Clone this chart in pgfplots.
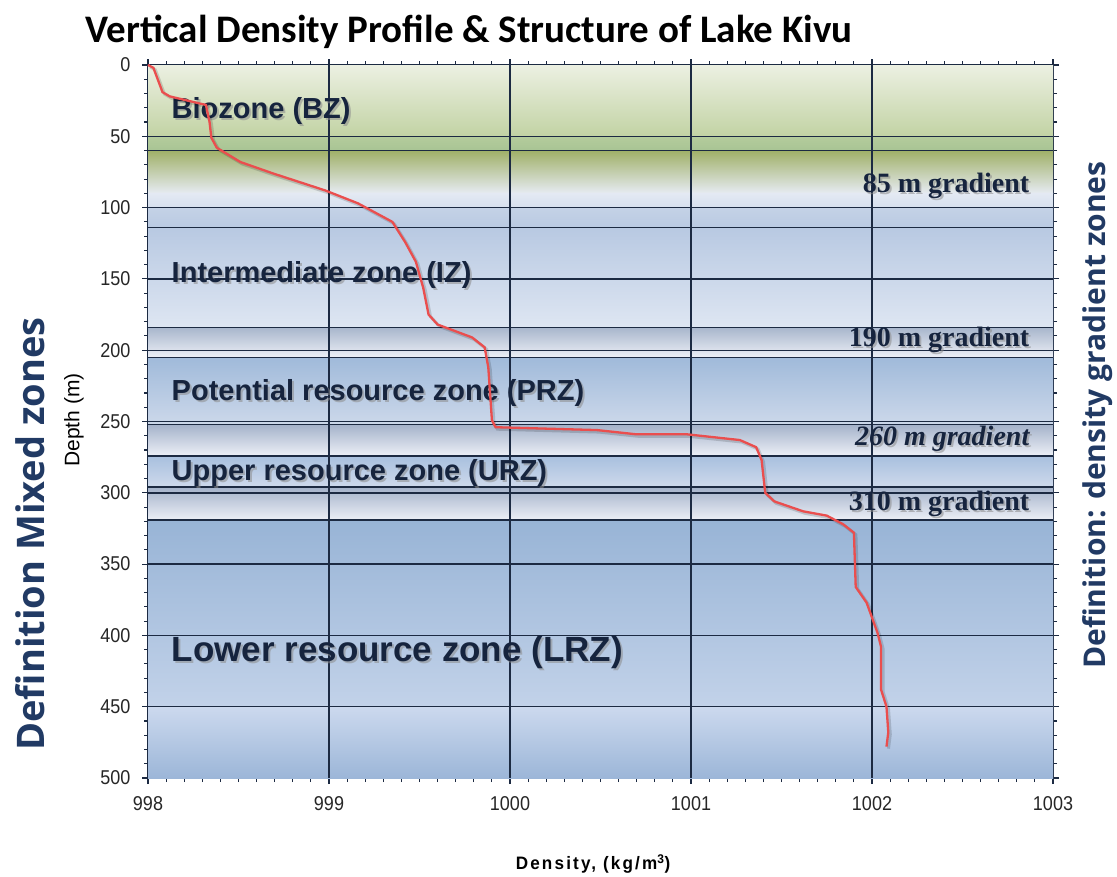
\documentclass[border=0pt]{standalone}
\usepackage{pgfplots}
\pgfplotsset{compat=1.18}
\usepackage{fontspec}
\setmainfont{Liberation Sans}
\newfontfamily\narrowsans[FakeStretch=0.9]{Liberation Sans}
\newfontfamily\spacedsans[LetterSpace=12,FakeStretch=0.95]{Liberation Sans}
\newfontfamily\titlefont{Carlito}
\newfontfamily\defn{Open Sans}
\newfontfamily\gradfont{Liberation Serif}
\definecolor{navy}{RGB}{22,36,62}
\definecolor{gridc}{RGB}{28,42,66}
\definecolor{defc}{RGB}{33,58,100}
\definecolor{curve}{RGB}{234,78,78}

\newcommand{\shtext}[4]{%
  \node[anchor=#2, font={#3}, text=black!45, opacity=0.55, xshift=2pt, yshift=-2pt, inner sep=0pt] at (#1) {#4};
  \node[anchor=#2, font={#3}, text=navy, inner sep=0pt] at (#1) {#4};}
\newcommand{\band}[4]{%
  \fill[top color={rgb,255:#3}, bottom color={rgb,255:#4}] (axis cs:998,#1) rectangle (axis cs:1003,#2);}

\pgfplotstableread{
x y
998.00 0
998.03 2
998.08 19
998.12 22
998.32 28
998.34 40
998.35 51
998.38 58
998.51 68
998.69 76
998.98 88
999.16 97
999.35 110
999.42 124
999.48 138
999.52 156
999.55 175
999.60 182
999.79 191
999.86 198
999.88 212
999.90 249
999.92 254
1000.48 256
1000.70 259
1000.98 259
1001.27 263
1001.36 268
1001.39 277
1001.41 300
1001.46 306
1001.62 313
1001.75 316
1001.84 322
1001.90 328
1001.91 366
1001.97 377
1002.03 398
1002.05 408
1002.05 438
1002.08 450
1002.09 468
1002.08 478
}\profile

\begin{document}
\begin{tikzpicture}
\path[use as bounding box] (0,0) rectangle (1117pt,876pt);
\begin{axis}[
  at={(148pt,98pt)}, anchor=south west,
  width=905pt, height=713pt, scale only axis,
  xmin=998, xmax=1003, ymin=0, ymax=500,
  y dir=reverse,
  xtick={998,999,1000,1001,1002,1003},
  ytick={0,50,...,500},
  minor x tick num=9, minor y tick num=4,
  major tick length=6pt, minor tick length=4pt,
  tick align=outside,
  tick style={gridc, line width=1.1pt},
  axis line style={gridc, line width=2.2pt},
  /pgf/number format/.cd, 1000 sep={}, assume math mode=true,
  /pgfplots/.cd,
  tick label style={font=\narrowsans\fontsize{20}{20}\selectfont, text=black!85},
  xticklabel style={yshift=-9pt},
  yticklabel style={xshift=-8pt},
  clip=false,
]
\band{0}{50}{red,236;green,240;blue,226}{red,194;green,211;blue,164}
\band{50}{60}{red,180;green,204;blue,156}{red,168;green,196;blue,148}
\band{60}{90}{red,160;green,176;blue,104}{red,230;green,235;blue,242}
\band{90}{100}{red,228;green,233;blue,243}{red,214;green,224;blue,238}
\band{100}{114}{red,196;green,210;blue,230}{red,186;green,202;blue,226}
\band{114}{184}{red,184;green,201;blue,226}{red,222;green,230;blue,242}
\band{184}{205}{red,168;green,182;blue,204}{red,236;green,239;blue,246}
\band{205}{252}{red,160;green,186;blue,218}{red,204;green,216;blue,234}
\band{252}{274}{red,164;green,178;blue,202}{red,236;green,239;blue,246}
\band{274}{296}{red,168;green,192;blue,222}{red,206;green,217;blue,236}
\band{296}{319}{red,164;green,178;blue,202}{red,236;green,239;blue,246}
\band{319}{450}{red,152;green,180;blue,214}{red,194;green,210;blue,233}
\band{450}{500}{red,204;green,217;blue,238}{red,156;green,182;blue,216}
% grid and zone boundary lines
\pgfplotsinvokeforeach{50,100,150,200,250,300,350,400,450}{
  \draw[gridc, line width=1.4pt] (axis cs:998,#1) -- (axis cs:1003,#1);
}
\pgfplotsinvokeforeach{999,1000,1001,1002}{
  \draw[gridc, line width=1.4pt] (axis cs:#1,0) -- (axis cs:#1,500);
}
\pgfplotsinvokeforeach{60,114,184,205,252,274,296,319}{
  \draw[gridc, line width=1.6pt] (axis cs:998,#1) -- (axis cs:1003,#1);
}
% zone labels
\shtext{axis cs:998.13,32}{west}{\bfseries\fontsize{29}{31}\selectfont}{Biozone (BZ)}
\shtext{axis cs:998.13,147}{west}{\bfseries\fontsize{29}{31}\selectfont}{Intermediate zone (IZ)}
\shtext{axis cs:998.13,230}{west}{\bfseries\fontsize{29}{31}\selectfont}{Potential resource zone (PRZ)}
\shtext{axis cs:998.13,286}{west}{\bfseries\fontsize{29}{31}\selectfont}{Upper resource zone (URZ)}
\shtext{axis cs:998.13,412}{west}{\bfseries\fontsize{35}{37}\selectfont}{Lower resource zone (LRZ)}
\shtext{axis cs:1002.87,85}{east}{\gradfont\bfseries\fontsize{28}{30}\selectfont}{85 m gradient}
\shtext{axis cs:1002.87,193}{east}{\gradfont\bfseries\fontsize{28}{30}\selectfont}{190 m gradient}
\shtext{axis cs:1002.87,262}{east}{\gradfont\bfseries\itshape\fontsize{28}{30}\selectfont}{260 m gradient}
\shtext{axis cs:1002.87,308}{east}{\gradfont\bfseries\fontsize{28}{30}\selectfont}{310 m gradient}
% density profile
\addplot[black, opacity=0.15, line width=3pt, xshift=2pt, yshift=-2pt] table {\profile};
\addplot[curve, line width=2.3pt] table {\profile};
\end{axis}
% title
\node[font=\titlefont\bfseries\fontsize{39}{41}\selectfont, text=black] at (469pt,844pt) {Vertical Density Profile \& Structure of Lake Kivu};
% side labels
\node[rotate=90, font=\defn\bfseries\fontsize{38}{40}\selectfont, text=defc] at (30pt,342pt) {Definition Mixed zones};
\node[rotate=90, font=\defn\bfseries\fontsize{30}{32}\selectfont, text=defc] at (1098pt,461pt) {Definition: density gradient zones};
\node[rotate=90, font=\fontsize{21}{22}\selectfont] at (74pt,456pt) {Depth (m)};
\node[font=\spacedsans\bfseries\fontsize{18}{19}\selectfont] at (593pt,12pt) {Density, (kg/m\textsuperscript{3})};
\end{tikzpicture}
\end{document}
